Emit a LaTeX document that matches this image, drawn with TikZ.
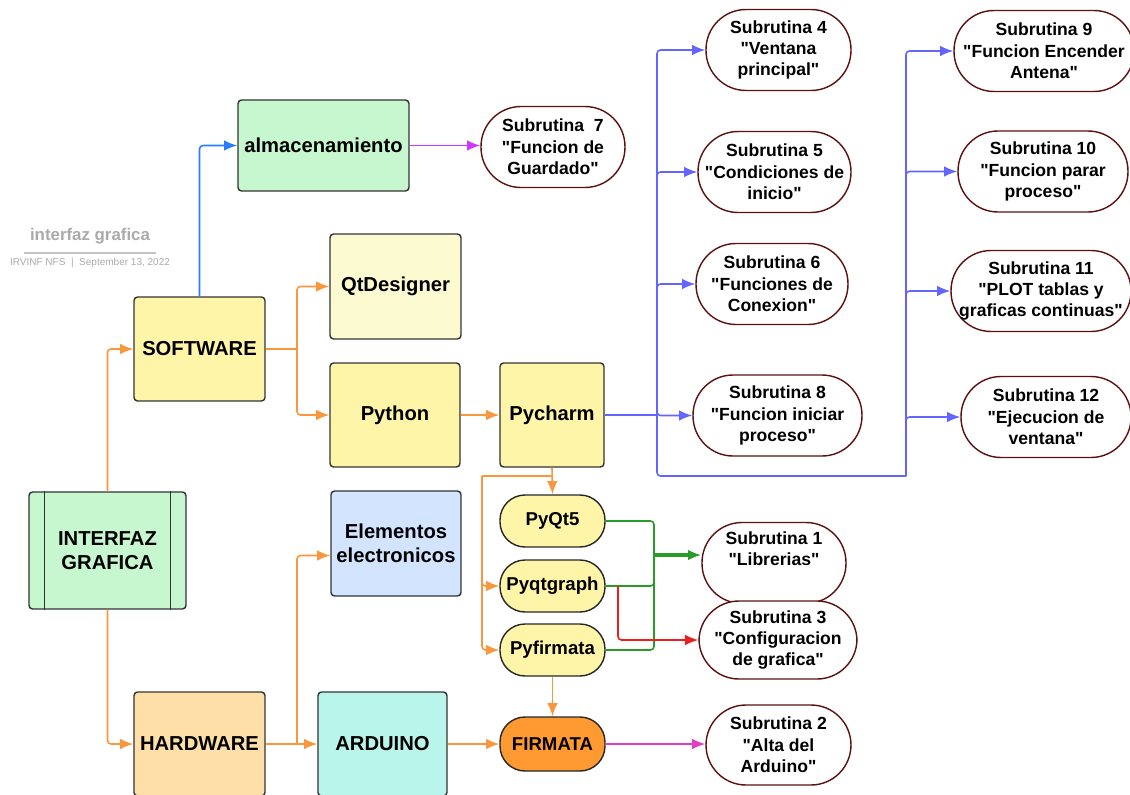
\documentclass[tikz,border=0pt]{standalone}
\usepackage{fontspec}
\setmainfont{Liberation Sans}[Ligatures=TeXOff]
\usepackage{tikz}
\usetikzlibrary{arrows.meta,calc,positioning}
\definecolor{verdecaja}{RGB}{199,247,207}
\definecolor{amarillo}{RGB}{255,245,168}
\definecolor{amarillopal}{RGB}{252,250,208}
\definecolor{azulcaja}{RGB}{210,228,255}
\definecolor{naranjacaja}{RGB}{255,223,168}
\definecolor{cian}{RGB}{186,245,236}
\definecolor{naranja}{RGB}{255,154,51}
\definecolor{naranjalinea}{RGB}{250,150,60}
\definecolor{azul}{RGB}{40,125,255}
\definecolor{morado}{RGB}{205,55,255}
\definecolor{violeta}{RGB}{100,100,255}
\definecolor{verde}{RGB}{40,155,40}
\definecolor{rojo}{RGB}{238,30,30}
\definecolor{rosa}{RGB}{226,60,196}
\definecolor{subred}{RGB}{92,16,16}
\definecolor{gristitulo}{RGB}{170,170,170}

\begin{document}
\begin{tikzpicture}[x=0.02cm,y=-0.02cm,
        caja/.style={draw=black!80, line width=0.8pt, rounded corners=2pt, align=center,
            font=\fontsize{11.5}{13.5}\selectfont\bfseries, inner sep=2pt},
        pildora/.style={draw=black!85, line width=0.8pt, rounded corners=0.5cm,
            minimum width=2.1cm, minimum height=1.04cm, font=\fontsize{10.6}{12}\selectfont\bfseries},
        subr/.style={draw=subred, fill=white, line width=0.8pt, rounded corners=0.8cm,
            minimum height=1.62cm, align=center, font=\fontsize{10}{12.2}\selectfont\bfseries, inner sep=1pt},
        flecha/.style={-{Latex[length=7.5pt,width=6pt]}, line width=0.9pt, rounded corners=2pt},
        linea/.style={line width=0.9pt, rounded corners=2pt}]
                \useasboundingbox (0,0) rectangle (1130,795);
                \node[text=gristitulo, font=\fontsize{9.6}{11}\selectfont\bfseries] (titulo) at (90,236) {interfaz grafica};
                \draw[gristitulo!70, line width=0.6pt] (24,253) -- (156,253);
                \node[text=gristitulo, font=\fontsize{5.7}{7}\selectfont] (fecha) at (90,263) {IRVINF NFS \ | \ September 13, 2022};
                \node[caja, fill=verdecaja, minimum width=3.14cm, minimum height=2.34cm] (interfaz) at (107.5,550.5) {INTERFAZ\\GRAFICA};
                \draw[black!80, line width=0.8pt] ([xshift=0.32cm]interfaz.north west) -- ([xshift=0.32cm]interfaz.south west);
                \draw[black!80, line width=0.8pt] ([xshift=-0.32cm]interfaz.north east) -- ([xshift=-0.32cm]interfaz.south east);
                \node[caja, fill=amarillo, minimum width=2.62cm, minimum height=2.08cm] (software) at (199.5,349) {SOFTWARE};
                \node[caja, fill=verdecaja, minimum width=3.42cm, minimum height=1.82cm] (almac) at (323.5,145.5) {almacenamiento};
                \node[caja, fill=amarillopal, minimum width=2.62cm, minimum height=2.1cm] (qtdes) at (395.5,286.5) {QtDesigner};
                \node[caja, fill=amarillo, minimum width=2.6cm, minimum height=2.08cm] (python) at (395,415) {Python};
                \node[caja, fill=amarillo, minimum width=2.08cm, minimum height=2.08cm] (pycharm) at (552,415) {Pycharm};
                \node[caja, fill=azulcaja, minimum width=2.6cm, minimum height=2.1cm] (elementos) at (396,543.5) {Elementos\\electronicos};
                \node[caja, fill=naranjacaja, minimum width=2.62cm, minimum height=2.08cm] (hardware) at (199.5,744) {HARDWARE};
                \node[caja, fill=cian, minimum width=2.58cm, minimum height=2.08cm] (arduino) at (382.5,744) {ARDUINO};
                \node[pildora, fill=amarillo] (pyqt) at (552.5,521) {PyQt5};
                \node[pildora, fill=amarillo] (pyqtgraph) at (552.5,586) {Pyqtgraph};
                \node[pildora, fill=amarillo] (pyfirmata) at (552.5,650) {Pyfirmata};
                \node[pildora, fill=naranja, minimum height=1.08cm] (firmata) at (552.5,744) {FIRMATA};
                \node[subr, minimum width=2.88cm] (sub7) at (553,147) {Subrutina \ 7\\"Funcion de\\Guardado"};
                \node[subr, minimum width=2.9cm] (sub4) at (778.5,50) {Subrutina 4\\"Ventana\\principal"};
                \node[subr, minimum width=3.06cm] (sub5) at (774.5,172) {Subrutina 5\\"Condiciones de\\inicio"};
                \node[subr, minimum width=3.04cm] (sub6) at (772,284) {Subrutina 6\\"Funciones de\\Conexion"};
                \node[subr, minimum width=3.38cm] (sub8) at (777.5,415.5) {Subrutina 8\\"Funcion iniciar\\proceso"};
                \node[subr, minimum width=3.6cm] (sub9) at (1044,51) {Subrutina 9\\"Funcion Encender\\Antena"};
                \node[subr, minimum width=3.4cm] (sub10) at (1043,171.5) {Subrutina 10\\"Funcion parar\\proceso"};
                \node[subr, minimum width=3.6cm] (sub11) at (1041,291) {Subrutina 11\\"PLOT tablas y\\graficas continuas"};
                \node[subr, minimum width=3.4cm] (sub12) at (1046,417) {Subrutina 12\\"Ejecucion de\\ventana"};
                \node[subr, minimum width=2.88cm] (sub1) at (774,563) {Subrutina 1\\"Librerias"\\[4pt]};
                \node[subr, minimum width=3.16cm, minimum height=1.56cm] (sub3) at (778,640) {Subrutina 3\\"Configuracion\\de grafica"};
                \node[subr, minimum width=2.9cm, minimum height=1.6cm] (sub2) at (778.5,745) {Subrutina 2\\"Alta del\\Arduino"};
                \coordinate (swfork) at (297,349);
                \coordinate (hwfork) at (297,744);
                \coordinate (pcfork) at (552,476);
                \coordinate (lbus) at (482,476);
                \coordinate (bus1) at (657,415);
                \coordinate (bus2) at (906,476);
                \coordinate (gbus) at (654,555);
                \coordinate (rfork) at (618,586);
                \draw[flecha, naranjalinea] (interfaz.north) |- (software.west);
                \draw[flecha, naranjalinea] (interfaz.south) |- (hardware.west);
                \draw[flecha, azul] (software.north) |- (almac.west);
                \draw[flecha, morado] (almac.east) -- (almac.east -| sub7.west);
                \draw[linea, naranjalinea] (software.east) -- (swfork);
                \draw[flecha, naranjalinea] (swfork) |- (qtdes.west);
                \draw[flecha, naranjalinea] (swfork) |- (python.west);
                \draw[flecha, naranjalinea] (python.east) -- (pycharm.west);
                \draw[flecha, naranjalinea] (pycharm.south) -- (pyqt.north);
                \draw[linea, naranjalinea] (pcfork) -- (lbus);
                \draw[flecha, naranjalinea] (lbus) |- (pyqtgraph.west);
                \draw[flecha, naranjalinea] (lbus) |- (pyfirmata.west);
                \draw[flecha, naranjalinea] (pyfirmata.south) -- (firmata.north);
                \draw[flecha, naranjalinea] (hardware.east) -- (arduino.west);
                \draw[flecha, naranjalinea] (hwfork) |- ($(elementos.west)+(0,12)$);
                \draw[flecha, naranjalinea] (arduino.east) -- (firmata.west);
                \draw[flecha, rosa] (firmata.east) -- (firmata.east -| sub2.west);
                \draw[linea, violeta] (pycharm.east) -- (bus1);
                \foreach \s in {sub4,sub5,sub6,sub8}
                    \draw[flecha, violeta] (bus1) |- (\s.west);
                \draw[linea, violeta] (bus1) |- (bus2);
                \foreach \s in {sub9,sub10,sub11,sub12}
                    \draw[flecha, violeta] (bus2) |- (\s.west);
                \draw[linea, verde] (pyqt.east) -| (gbus);
                \draw[linea, verde] (pyqtgraph.east) -| (gbus);
                \draw[linea, verde] (pyfirmata.east) -| (gbus);
                \draw[flecha, verde, line width=1.8pt] (gbus) -- (gbus -| sub1.west);
                \draw[flecha, rojo] (rfork) |- (sub3.west);
\end{tikzpicture}
\end{document}
